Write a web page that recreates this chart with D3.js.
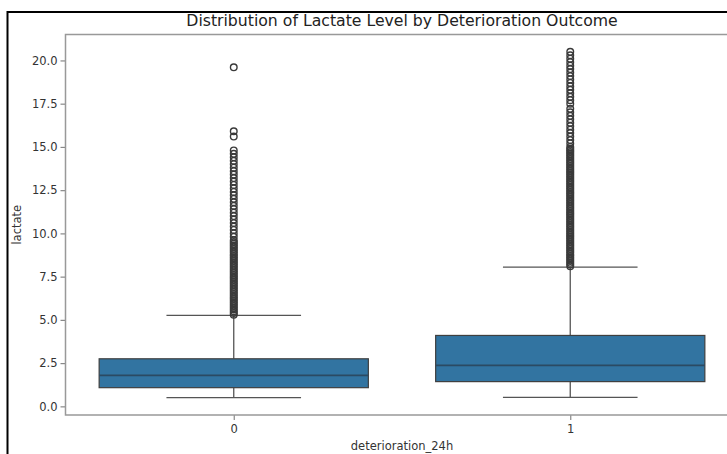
<!DOCTYPE html>
<html>
<head>
<meta charset="utf-8">
<script src="https://cdn.jsdelivr.net/npm/d3@7"></script>
<style>
    body { margin: 0; background: #fff; }
    svg { display: block; font-family: "DejaVu Sans", sans-serif; }
</style>
</head>
<body>
<div id="chart"></div>
<script>
// data
var groups = ["0", "1"];
var q1 = [1.08, 1.43];
var median = [1.79, 2.37];
var q3 = [2.75, 4.1];
var whiskerLow = [0.5, 0.52];
var whiskerHigh = [5.26, 8.05];

var outliers0 = [5.3, 5.4, 5.5, 5.6, 5.7, 5.8, 5.9, 6.0, 6.1, 6.2, 6.3, 6.4, 6.5, 6.6, 6.7, 6.8, 6.9, 7.0,
    7.1, 7.2, 7.3, 7.4, 7.5, 7.6, 7.7, 7.8, 7.9, 8.0, 8.1, 8.2, 8.3, 8.4, 8.5, 8.6, 8.7, 8.8, 8.9, 9.0,
    9.1, 9.2, 9.3, 9.4, 9.5, 9.6, 9.8, 10.0, 10.2, 10.4, 10.6, 10.8, 11.0, 11.2, 11.4, 11.6, 11.8, 12.0,
    12.2, 12.4, 12.6, 12.8, 13.0, 13.2, 13.4, 13.6, 13.8, 14.0, 14.2, 14.4, 14.6, 14.8, 15.6, 15.9, 19.6];

var outliers1 = [8.1, 8.2, 8.3, 8.4, 8.5, 8.6, 8.7, 8.8, 8.9, 9.0, 9.1, 9.2, 9.3, 9.4, 9.5, 9.6, 9.7, 9.8,
    9.9, 10.0, 10.1, 10.2, 10.3, 10.4, 10.5, 10.6, 10.7, 10.8, 10.9, 11.0, 11.1, 11.2, 11.3, 11.4, 11.5,
    11.6, 11.7, 11.8, 11.9, 12.0, 12.1, 12.2, 12.3, 12.4, 12.5, 12.6, 12.7, 12.8, 12.9, 13.0, 13.1, 13.2,
    13.3, 13.4, 13.5, 13.6, 13.7, 13.8, 13.9, 14.0, 14.1, 14.2, 14.3, 14.4, 14.5, 14.6, 14.7, 14.8, 14.9,
    15.0, 15.2, 15.4, 15.6, 15.8, 16.0, 16.2, 16.4, 16.6, 16.8, 17.0, 17.2, 17.5, 17.7, 17.9, 18.1, 18.3,
    18.5, 18.7, 18.9, 19.1, 19.3, 19.5, 19.7, 19.9, 20.1, 20.3, 20.5];

var yTicks = [0, 2.5, 5, 7.5, 10, 12.5, 15, 17.5, 20];

// -------------------------------------------------------------------------------
var svgWidth = 727;
var svgHeight = 454;

var plot = { left: 65.5, right: 738.5, top: 34.5, bottom: 415 };

var svg = d3.select("#chart")
    .append("svg")
    .attr("width", svgWidth)
    .attr("height", svgHeight);

// frame around the screenshot
svg.append("path")
    .attr("d", `M7.5,${svgHeight} V12 H${svgWidth}`)
    .attr("fill", "none")
    .attr("stroke", "#000")
    .attr("stroke-width", 2);

var xScale = d3.scaleLinear()
    .domain([-0.5, 1.5])
    .range([plot.left, plot.right]);

var yScale = d3.scaleLinear()
    .domain([-0.5, 21.5])
    .range([plot.bottom, plot.top]);

var boxWidth = 0.8;
var lineColor = "#3f3f3f";
var whiskerColor = "#555";

// boxes
var boxGroup = svg.append("g");

groups.forEach(function (g, i) {
    var cx = xScale(i);
    var half = (xScale(boxWidth / 2) - xScale(0));

    // whisker stems
    boxGroup.append("line")
        .attr("x1", cx).attr("x2", cx)
        .attr("y1", yScale(q3[i])).attr("y2", yScale(whiskerHigh[i]))
        .attr("stroke", whiskerColor).attr("stroke-width", 1.3);
    boxGroup.append("line")
        .attr("x1", cx).attr("x2", cx)
        .attr("y1", yScale(q1[i])).attr("y2", yScale(whiskerLow[i]))
        .attr("stroke", whiskerColor).attr("stroke-width", 1.3);

    // caps
    [whiskerHigh[i], whiskerLow[i]].forEach(function (v) {
        boxGroup.append("line")
            .attr("x1", cx - half / 2).attr("x2", cx + half / 2)
            .attr("y1", yScale(v)).attr("y2", yScale(v))
            .attr("stroke", whiskerColor).attr("stroke-width", 1.3);
    });

    // box
    boxGroup.append("rect")
        .attr("x", cx - half)
        .attr("y", yScale(q3[i]))
        .attr("width", half * 2)
        .attr("height", yScale(q1[i]) - yScale(q3[i]))
        .attr("fill", "#3274a1")
        .attr("stroke", lineColor)
        .attr("stroke-width", 1.2);

    // median
    boxGroup.append("line")
        .attr("x1", cx - half).attr("x2", cx + half)
        .attr("y1", yScale(median[i])).attr("y2", yScale(median[i]))
        .attr("stroke", "#2b4a63").attr("stroke-width", 1.6);
});

// outliers
var outliers = [outliers0, outliers1];
outliers.forEach(function (list, i) {
    boxGroup.append("g")
        .selectAll("circle")
        .data(list)
        .enter()
        .append("circle")
        .attr("cx", xScale(i))
        .attr("cy", d => yScale(d))
        .attr("r", 3.3)
        .attr("fill", "none")
        .attr("stroke", "#3a3a3a")
        .attr("stroke-width", 1.4);
});

// axes
var leftAxis = d3.axisLeft(yScale)
    .tickValues(yTicks)
    .tickFormat(d3.format(".1f"))
    .tickSize(5)
    .tickPadding(3);

var bottomAxis = d3.axisBottom(xScale)
    .tickValues([0, 1])
    .tickFormat(d => groups[d])
    .tickSize(5)
    .tickPadding(5);

var yAxis = svg.append("g")
    .attr("transform", `translate(${plot.left}, 0)`)
    .call(leftAxis);

var xAxis = svg.append("g")
    .attr("transform", `translate(0, ${plot.bottom})`)
    .call(bottomAxis);

[yAxis, xAxis].forEach(function (ax) {
    ax.select(".domain").remove();
    ax.selectAll("line").attr("stroke", "#888").attr("stroke-width", 1.2);
    ax.selectAll("text")
        .attr("fill", "#333")
        .style("font-size", "11.5px")
        .style("font-family", "DejaVu Sans, sans-serif");
});

// spines
svg.append("path")
    .attr("d", `M${plot.left},${plot.top} V${plot.bottom} H${plot.right} V${plot.top} Z`)
    .attr("fill", "none")
    .attr("stroke", "#999")
    .attr("stroke-width", 1.5);

// labels
svg.append("text")
    .attr("x", (plot.left + plot.right) / 2)
    .attr("y", 26)
    .attr("text-anchor", "middle")
    .attr("fill", "#222")
    .style("font-size", "15.7px")
    .text("Distribution of Lactate Level by Deterioration Outcome");

svg.append("text")
    .attr("transform", "rotate(-90)")
    .attr("x", -(plot.top + plot.bottom) / 2)
    .attr("y", 21)
    .attr("text-anchor", "middle")
    .attr("fill", "#333")
    .style("font-size", "11.5px")
    .text("lactate");

svg.append("text")
    .attr("x", (plot.left + plot.right) / 2)
    .attr("y", 450)
    .attr("text-anchor", "middle")
    .attr("fill", "#333")
    .style("font-size", "11.5px")
    .text("deterioration_24h");
</script>
</body>
</html>
